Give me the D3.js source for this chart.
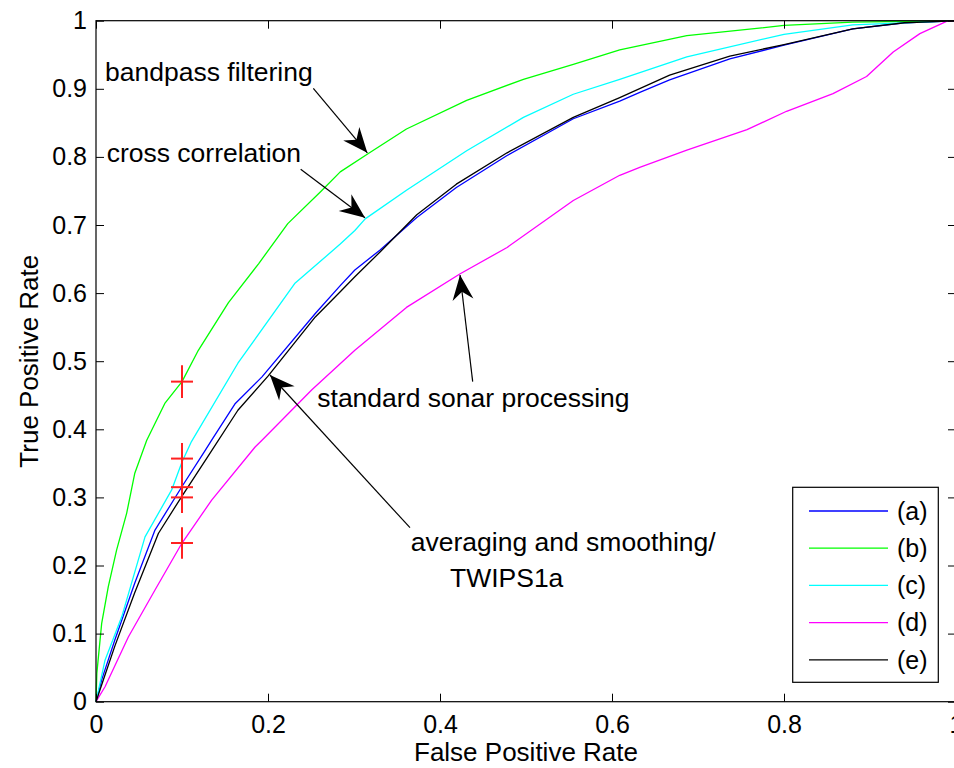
<!DOCTYPE html>
<html><head><meta charset="utf-8">
<script src="https://cdn.jsdelivr.net/npm/d3@7"></script>
<style>
body{margin:0;background:#fff}
svg{display:block}
text{font-family:"Liberation Sans",Arial,Helvetica,sans-serif;fill:#000}
</style>
</head><body>
<svg id="chart" width="954" height="768"></svg>
<script>
// ---- data ----
const fprA = [0,0.0066,0.022,0.045,0.0686,0.1,0.127,0.1345,0.162,0.193,0.255,0.284,0.301,0.33,0.373,0.419,0.478,0.555,0.609,0.633,0.667,0.737,0.8,0.88,0.94,1];
const tprA = [0,0.032,0.091,0.174,0.252,0.316,0.369,0.384,0.438,0.477,0.57,0.611,0.634,0.663,0.711,0.755,0.802,0.856,0.882,0.895,0.913,0.944,0.964,0.988,0.997,1];

const fprB = [0,0.001,0.0066,0.0143,0.024,0.0357,0.045,0.059,0.08,0.1,0.119,0.154,0.189,0.223,0.262,0.284,0.3167,0.361,0.431,0.497,0.555,0.609,0.687,0.8,0.88,1];
const tprB = [0,0.042,0.115,0.169,0.223,0.277,0.335,0.384,0.438,0.47,0.516,0.586,0.643,0.702,0.75,0.778,0.805,0.841,0.883,0.914,0.936,0.957,0.978,0.993,0.998,1];

const fprC = [0,0.0105,0.03,0.057,0.088,0.1,0.111,0.165,0.231,0.284,0.301,0.313,0.361,0.431,0.497,0.555,0.609,0.687,0.8,0.88,1];
const tprC = [0,0.061,0.125,0.242,0.311,0.352,0.382,0.497,0.614,0.672,0.692,0.709,0.751,0.809,0.858,0.892,0.914,0.947,0.98,0.994,1];

const fprD = [0,0.0105,0.0376,0.0686,0.1,0.1345,0.185,0.193,0.251,0.301,0.361,0.423,0.478,0.555,0.609,0.633,0.687,0.757,0.803,0.857,0.896,0.927,0.958,0.989,1];
const tprD = [0,0.022,0.095,0.164,0.233,0.296,0.374,0.384,0.458,0.516,0.579,0.628,0.667,0.736,0.773,0.785,0.81,0.84,0.867,0.893,0.918,0.954,0.981,0.999,1];

const fprE = [0,0.008,0.022,0.045,0.0725,0.1,0.13,0.165,0.2,0.255,0.284,0.301,0.33,0.373,0.419,0.478,0.555,0.609,0.667,0.737,0.8,0.88,0.94,1];
const tprE = [0,0.03,0.082,0.16,0.247,0.302,0.36,0.428,0.478,0.565,0.602,0.624,0.66,0.715,0.76,0.806,0.858,0.887,0.92,0.948,0.965,0.988,0.997,1];

const seriesNames = ["(a)","(b)","(c)","(d)","(e)"];
const seriesColors = ["#0000ff","#00ff00","#00ffff","#ff00ff","#000000"];

const markerFpr = [0.1,0.1,0.1,0.1,0.1];
const markerTpr = [0.47,0.357,0.315,0.30,0.233];
const markerErr = [0.024,0.023,0.023,0.023,0.023];

const xTicks = [0,0.2,0.4,0.6,0.8,1];
const yTicks = [0,0.1,0.2,0.3,0.4,0.5,0.6,0.7,0.8,0.9,1];

const annoTexts = ["bandpass filtering","cross correlation","standard sonar processing","averaging and smoothing/","TWIPS1a"];
const annoTextX = [0.0105,0.0124,0.2573,0.366,0.4116];
const annoTextY = [0.911,0.793,0.4332,0.222,0.168];

const arrowTailX = [0.2527,0.238,0.438,0.3651];
const arrowTailY = [0.9007,0.782,0.470,0.2555];
const arrowTipX  = [0.3155,0.3128,0.4233,0.2023];
const arrowTipY  = [0.806,0.7107,0.6266,0.4797];

// ---- chart ----
const svg = d3.select("#chart");
const x = d3.scaleLinear().domain([0,1]).range([96,956]);
const y = d3.scaleLinear().domain([0,1]).range([701.7,20.7]);

const series = [[fprA,tprA],[fprB,tprB],[fprC,tprC],[fprD,tprD],[fprE,tprE]];
const line = d3.line().x(d=>x(d[0])).y(d=>y(d[1]));

series.forEach((s,i)=>{
  const pts = s[0].map((v,j)=>[v,s[1][j]]);
  svg.append("path").datum(pts).attr("d",line)
    .attr("fill","none").attr("stroke",seriesColors[i]).attr("stroke-width",1.3)
    .attr("stroke-linejoin","round");
});

// red markers with error bars
const mk = svg.append("g").attr("stroke","#ff2020").attr("stroke-width",2);
markerTpr.forEach((t,i)=>{
  const cx = x(markerFpr[i]), cy = y(t);
  mk.append("line").attr("x1",cx).attr("x2",cx).attr("y1",y(t+markerErr[i])).attr("y2",y(t-markerErr[i]));
  mk.append("line").attr("x1",cx-11).attr("x2",cx+11).attr("y1",cy).attr("y2",cy);
});

// axes
const fs = 25;
const gx = svg.append("g").attr("transform",`translate(0,${y(0)})`)
  .call(d3.axisBottom(x).tickValues(xTicks).tickSizeInner(-8).tickSizeOuter(0).tickPadding(14).tickFormat(d=>String(d)));
const gy = svg.append("g").attr("transform",`translate(${x(0)},0)`)
  .call(d3.axisLeft(y).tickValues(yTicks).tickSizeInner(-8).tickSizeOuter(0).tickPadding(9).tickFormat(d=>String(d)));
const gt = svg.append("g").attr("transform",`translate(0,${y(1)})`)
  .call(d3.axisTop(x).tickValues(xTicks).tickSizeInner(-8).tickSizeOuter(0).tickFormat(""));
const gr = svg.append("g").attr("transform",`translate(${x(1)},0)`)
  .call(d3.axisRight(y).tickValues(yTicks).tickSizeInner(-8).tickSizeOuter(0).tickFormat(""));
[gx,gy,gt,gr].forEach(g=>{
  g.select(".domain").remove();
  g.selectAll(".tick line").attr("stroke","#000").attr("stroke-width",1);
  g.selectAll("text").attr("font-size",fs).attr("font-family",null).style("fill","#000");
});
svg.append("rect").attr("x",x(0)).attr("y",y(1)).attr("width",x(1)-x(0)).attr("height",y(0)-y(1))
  .attr("fill","none").attr("stroke","#000").attr("stroke-width",1.2);

// axis labels
svg.append("text").attr("x",(x(0)+x(1))/2).attr("y",761).attr("text-anchor","middle")
  .attr("font-size",26).text("False Positive Rate");
svg.append("text").attr("transform",`translate(38,${(y(0)+y(1))/2}) rotate(-90)`).attr("text-anchor","middle")
  .attr("font-size",26).text("True Positive Rate");

// annotations
annoTexts.forEach((t,i)=>{
  svg.append("text").attr("x",x(annoTextX[i])).attr("y",y(annoTextY[i]))
    .attr("font-size",26.5).text(t);
});
arrowTipX.forEach((tx,i)=>{
  const x1 = x(arrowTailX[i]), y1 = y(arrowTailY[i]), x2 = x(tx), y2 = y(arrowTipY[i]);
  svg.append("line").attr("x1",x1).attr("y1",y1).attr("x2",x2).attr("y2",y2)
    .attr("stroke","#000").attr("stroke-width",1.2);
  const ang = Math.atan2(y2-y1,x2-x1)*180/Math.PI;
  svg.append("path").attr("transform",`translate(${x2},${y2}) rotate(${ang})`)
    .attr("d","M0,0 L-25,-10.5 L-17,0 L-25,10.5 Z").attr("fill","#000");
});

// legend
const lg = svg.append("g");
lg.append("rect").attr("x",792.7).attr("y",487.3).attr("width",145.6).attr("height",195)
  .attr("fill","#fff").attr("stroke","#000").attr("stroke-width",1.2);
seriesNames.forEach((n,i)=>{
  const ly = 511 + i*37.2;
  lg.append("line").attr("x1",809).attr("x2",888).attr("y1",ly).attr("y2",ly)
    .attr("stroke",seriesColors[i]).attr("stroke-width",1.3);
  lg.append("text").attr("x",897).attr("y",ly).attr("dy","0.35em").attr("font-size",25).text(n);
});
</script>
</body></html>
